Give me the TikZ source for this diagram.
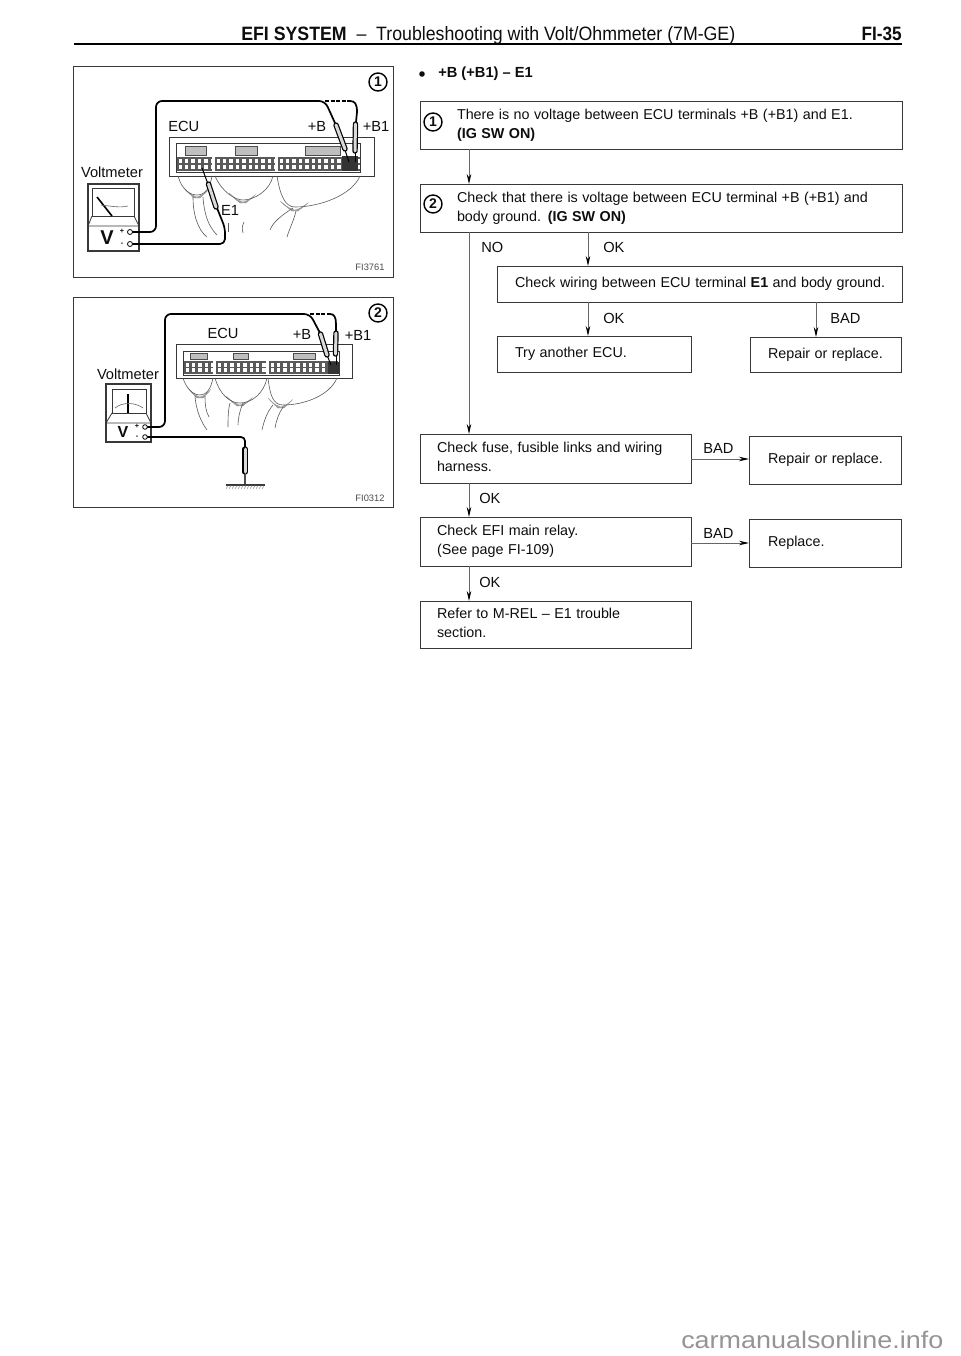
\documentclass[tikz,border=0pt]{standalone}
\usepackage{fontspec}
\setmainfont{Liberation Sans}
\usetikzlibrary{arrows.meta}
\newdimen\px \px=0.75pt
\definecolor{ink}{gray}{0.05}
\definecolor{lne}{gray}{0.22}
\newcommand{\fw}[2]{\resizebox{#1\px}{\height}{#2}}
\newcommand{\txt}{\fontsize{10.75}{14.25}\selectfont}
\tikzset{
 x=0.75pt,y=-0.75pt,
 panel/.style={draw=lne,line width=1\px},
 wire/.style={draw=black,line width=1.7\px,line join=round},
 thinw/.style={draw=black!65,line width=0.6\px},
 bxs/.style={draw=lne,line width=1\px,inner sep=0pt,outer sep=0pt,anchor=north west,align=left,text=ink},
 lab/.style={inner sep=0pt,anchor=west,text=ink,font=\fontsize{11}{13}\selectfont},
 plab/.style={inner sep=0pt,text=ink,font=\fontsize{11}{13}\selectfont},
 tiny/.style={inner sep=0pt,text=black!70,font=\fontsize{7}{8}\selectfont},
 sgn/.style={inner sep=0pt,text=ink,font=\fontsize{5.5}{6}\selectfont\bfseries},
 circ/.style={draw=black,circle,line width=1.4\px,inner sep=0pt,minimum size=18\px,text=ink,font=\fontsize{10.5}{12}\selectfont\bfseries},
 arr/.style={draw=black!60,line width=0.9\px,-{Stealth[length=7.5pt,width=3.4pt,black]}},
}
\newcommand{\bx}[7]{%
 \pgfmathsetmacro\bw{(#4-#2)*0.75}\pgfmathsetmacro\bh{(#5-#3)*0.75}%
 \node[bxs,minimum height=\bh pt,text width=\bw pt] (#1) at (#2,#3) {\txt\hspace*{#6\px}\begin{tabular}[c]{@{}l@{}}#7\end{tabular}};}
\newcommand{\mypins}[4]{% x0,x1,y0,y1
 \fill[black!65] (#1,#3) rectangle (#2,#4);
 \pgfmathsetmacro\ym{(#3+#4)/2}
 \pgfmathsetmacro\xb{#1+6.4}
 \foreach \xx in {#1,\xb,...,#2}{
  \fill[white] (\xx+1.5,#3+1.6) rectangle (\xx+5,\ym-.8);
  \fill[white] (\xx+1.5,\ym+.8) rectangle (\xx+5,#4-1.6);
 }}
\newcommand{\myprobe}[4]{%
 \draw[black,line width=5.4\px,line cap=round] (#1,#2) -- (#3,#4);
 \draw[white!85!black,line width=3\px,line cap=round] (#1,#2) -- (#3,#4);}
\newcommand{\myfan}[3]{% cx, cy, half width
 \foreach \d in {-1,-.9,...,1}{\draw[black!40,line width=.5\px] (#1+\d*#3,#2-1-8*\d*\d) -- (#1+\d*3,#2+1);}}
\begin{document}
\begin{tikzpicture}
\useasboundingbox (0,0) rectangle (960,1356);
% header
\node[inner sep=0pt,anchor=base west,text=ink] (head) at (241,40) {\fontsize{14.5}{16}\selectfont\fw{494}{\textbf{EFI SYSTEM}\ \ --\ \ Troubleshooting with Volt/Ohmmeter (7M-GE)}};
\node[inner sep=0pt,anchor=base east,text=ink] (pg) at (902,40) {\fontsize{14.5}{16}\selectfont\fw{40}{\textbf{FI-35}}};
\fill[black] (73.5,42.6) rectangle (902,45.2);
% ---------- panel 1
\draw[panel] (73,66) rectangle (393,277);
\node[circ] (c1a) at (378,82) {1};
\draw[lne,line width=1\px] (169,137) rectangle (374,176);
\draw[lne,line width=.8\px] (176,143) rectangle (360,172);
\foreach \a/\b in {185/206,235/257,305/340}{\draw[black!70,fill=black!25,line width=.8\px] (\a,146) rectangle (\b,155);}
\mypins{177}{212}{157}{171}
\mypins{215}{275}{157}{171}
\mypins{278}{360}{157}{171}
\fill[black!80] (342,156) rectangle (358,171);
% harness 1
\myfan{197}{197}{13}\myfan{243}{202}{14}\myfan{295}{210}{15}
\draw[thinw] (178,176) .. controls (182,190) and (190,195) .. (197,195) .. controls (205,195) and (210,188) .. (212,176);
\draw[thinw] (215,176) .. controls (222,192) and (235,200) .. (243,200) .. controls (255,200) and (270,190) .. (273,176);
\draw[thinw] (277,176) .. controls (280,195) and (285,207) .. (295,207) .. controls (320,207) and (352,195) .. (360,176);
\draw[thinw] (193,197) .. controls (193,215) and (198,230) .. (207,237);
\draw[thinw] (203,197) .. controls (204,213) and (208,226) .. (217,235);
\draw[thinw] (228,223) -- (228,232);
\draw[thinw] (244,222) .. controls (242,226) and (242,229) .. (243,233);
\draw[thinw] (293,208) .. controls (282,215) and (273,222) .. (270,230);
\draw[thinw] (296,211) .. controls (294,220) and (289,230) .. (287,237);
% meter 1
\draw[lne,line width=1.1\px,fill=white] (88,184) rectangle (139,251);
\draw[lne,line width=1\px] (92,188) rectangle (134,216);
\draw[lne,line width=.8\px] (92,216) -- (88,226) -- (139,226) -- (134,216);
\draw[black,line width=1.6\px] (97,197) -- (112,216);
\draw[black!60,line width=.6\px] (101,205) .. controls (110,206) and (120,208) .. (128,206);
\node[inner sep=0pt,text=ink,font=\fontsize{15}{16}\selectfont\bfseries] (v1) at (107,238) {V};
\node[sgn] (v1p) at (122,231.5) {+};
\node[sgn] (v1m) at (122,244.5) {-};
\node[plab] (vm1) at (112,172) {Voltmeter};
\node[plab,anchor=west] (ecu1) at (168,126) {ECU};
\node[plab] (b1a) at (317,126) {+B};
\node[plab] (b1b) at (376,126) {+B1};
\node[plab] (e1a) at (230,210) {E1};
\node[tiny] (f1) at (370,267) {FI3761};
% wires 1
\draw[wire,rounded corners=6\px] (130,232) -- (156,232) -- (156,101) -- (325,101) -- (335,123);
\draw[wire,dash pattern=on 4\px off 1.5\px] (325,101) -- (350,101);
\draw[wire] (350,101) .. controls (355,101) and (357,104) .. (357,112) -- (356,122);
\draw[wire,rounded corners=5\px] (130,244) -- (225,244) -- (225,228) -- (217,208);
\draw[black,line width=1\px] (345,150) -- (349,162);
\draw[black,line width=1\px] (355,150) -- (355,162);
\myprobe{336}{125}{345}{149}
\myprobe{355.5}{124}{355}{151}
\draw[black,line width=1\px] (208,184) -- (202,168);
\myprobe{208.5}{184}{216}{207}
\foreach \p in {232,244}{\draw[black,fill=white,line width=.8\px] (130,\p) circle (2.5);}
% ---------- panel 2
\draw[panel] (73,297) rectangle (393,507);
\node[circ] (c2a) at (378,313) {2};
\draw[lne,line width=1\px] (176,344) rectangle (352,378);
\draw[lne,line width=.8\px] (183,351) rectangle (339,375);
\foreach \a/\b in {190/207,233/248,293/315}{\draw[black!70,fill=black!25,line width=.8\px] (\a,353) rectangle (\b,359);}
\mypins{184}{213}{361}{374}
\mypins{216}{266}{361}{374}
\mypins{269}{338}{361}{374}
\fill[black!80] (328,362) rectangle (339,374);
% harness 2
\myfan{200}{397}{12}\myfan{240}{405}{14}\myfan{281}{407}{13}
\draw[thinw] (183,378) .. controls (186,388) and (193,395) .. (200,395) .. controls (207,395) and (211,388) .. (213,378);
\draw[thinw] (215,378) .. controls (220,395) and (230,403) .. (240,403) .. controls (252,403) and (264,393) .. (267,378);
\draw[thinw] (268,378) .. controls (270,395) and (273,405) .. (283,405) .. controls (305,405) and (330,395) .. (337,378);
\draw[thinw] (195,396) .. controls (196,410) and (201,422) .. (207,430);
\draw[thinw] (205,396) .. controls (205,405) and (206,412) .. (209,417);
\draw[thinw] (230,403) .. controls (228,410) and (228,420) .. (228,427);
\draw[thinw] (243,403) .. controls (240,410) and (238,418) .. (238,425);
\draw[thinw] (273,405) .. controls (267,412) and (264,421) .. (262,430);
\draw[thinw] (283,407) .. controls (279,413) and (276,421) .. (275,428);
% meter 2
\draw[lne,line width=1.1\px,fill=white] (106,384) rectangle (151,442);
\draw[lne,line width=1\px] (112,389) rectangle (146,413);
\draw[lne,line width=.8\px] (112,413) -- (106,423) -- (151,423) -- (146,413);
\draw[black,line width=1.3\px] (128,394) -- (128,413);
\draw[black!60,line width=.6\px] (115,408) .. controls (122,402) and (135,402) .. (143,408);
\node[inner sep=0pt,text=ink,font=\fontsize{12}{13}\selectfont\bfseries] (v2) at (123,432) {V};
\node[sgn] (v2p) at (137,426.5) {+};
\node[sgn] (v2m) at (137,437.5) {-};
\node[plab] (vm2) at (128,374) {Voltmeter};
\node[plab] (ecu2) at (223,333) {ECU};
\node[plab] (b2a) at (302,334) {+B};
\node[plab] (b2b) at (358,335) {+B1};
\node[tiny] (f2) at (370,498) {FI0312};
% wires 2
\draw[wire,rounded corners=6\px] (145,427) -- (165,427) -- (165,314) -- (310,314) -- (320,333);
\draw[wire,dash pattern=on 4\px off 1.5\px] (310,314) -- (330,314);
\draw[wire] (330,314) .. controls (334,314) and (336,317) .. (336,324) -- (336,332);
\draw[wire,rounded corners=4\px] (145,437) -- (245,437) -- (245,449);
\draw[black,line width=1\px] (327,355) -- (331,365);
\draw[black,line width=1\px] (336,355) -- (336,365);
\myprobe{320.5}{334}{327}{355}
\myprobe{336}{333}{335.5}{354}
\myprobe{245}{449}{245}{472}
\draw[black!70,line width=2\px] (245,474) -- (245,485);
\draw[lne,line width=1.2\px] (226,485) -- (265,485);
\foreach \h in {228,231,...,264}{\draw[black!45,line width=.5\px] (\h,485.5) -- (\h-2,489);}
\foreach \p in {427,437}{\draw[black,fill=white,line width=.8\px] (145,\p) circle (2.3);}
% ---------- flow chart
\fill[ink] (422,74) circle (2.8);
\node[lab] (ttl) at (438,74) {\textbf{+B (+B1) -- E1}};
\coordinate (xa) at (469,0);
\coordinate (xb) at (588,0);
\coordinate (xc) at (816,0);
\coordinate (ya) at (0,459);
\coordinate (yb) at (0,543);
\bx{b1}{420}{101}{902}{149}{37}{There is no voltage between ECU terminals +B (+B1) and E1.\\\textbf{(IG SW ON)}}
\bx{b2}{420}{184}{902}{232}{37}{Check that there is voltage between ECU terminal +B (+B1) and\\body ground. \textbf{(IG SW ON)}}
\node[circ] (c1b) at (433,122) {1};
\node[circ] (c2b) at (433,204) {2};
\bx{b3}{497}{266}{902}{302}{18}{Check wiring between ECU terminal \textbf{E1} and body ground.}
\bx{b4}{497}{336}{691}{372}{18}{Try another ECU.}
\bx{b5}{750}{337}{901}{372}{18}{Repair or replace.}
\bx{b6}{420}{434}{691}{483}{17}{Check fuse, fusible links and wiring\\harness.}
\bx{b7}{749}{436}{901}{484}{19}{Repair or replace.}
\bx{b8}{420}{517}{691}{566}{17}{Check EFI main relay.\\(See page FI-109)}
\bx{b9}{749}{519}{901}{567}{19}{Replace.}
\bx{b10}{420}{601}{691}{648}{17}{Refer to M-REL -- E1 trouble\\section.}
\draw[arr] (b1.south -| xa) -- (b2.north -| xa);
\draw[arr] (b2.south -| xa) -- (b6.north -| xa);
\draw[arr] (b2.south -| xb) -- (b3.north -| xb);
\draw[arr] (b3.south -| xb) -- (b4.north -| xb);
\draw[arr] (b3.south -| xc) -- (b5.north -| xc);
\draw[arr] (b6.south -| xa) -- (b8.north -| xa);
\draw[arr] (b8.south -| xa) -- (b10.north -| xa);
\draw[arr] (b6.east |- ya) -- (b7.west |- ya);
\draw[arr] (b8.east |- yb) -- (b9.west |- yb);
\node[lab] (l1) at (481,247) {NO};
\node[lab] (l2) at (603,247) {OK};
\node[lab] (l3) at (603,318) {OK};
\node[lab] (l4) at (830,318) {BAD};
\node[lab] (l5) at (703,448) {BAD};
\node[lab] (l6) at (479,498) {OK};
\node[lab] (l7) at (703,533) {BAD};
\node[lab] (l8) at (479,582) {OK};
% footer
\node[inner sep=0pt,anchor=west,text=black!42] (wm) at (681,1340) {\fontsize{18}{20}\selectfont\fw{262}{carmanualsonline.info}};
\end{tikzpicture}
\end{document}
